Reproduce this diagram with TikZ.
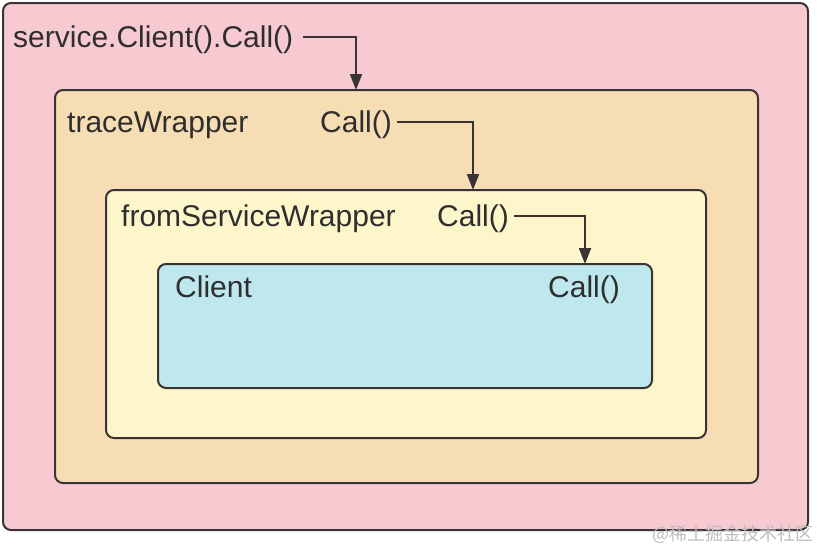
\documentclass[tikz,border=0pt]{standalone}
\usepackage{fontspec}
\setmainfont{Liberation Sans}
\newfontfamily\cjk{Noto Sans CJK SC}
\usetikzlibrary{arrows.meta}
\definecolor{pinkbg}{HTML}{F7CAD1}
\definecolor{orangebg}{HTML}{F7DDB4}
\definecolor{yellowbg}{HTML}{FEF6CB}
\definecolor{cyanbg}{HTML}{BEE8EE}
\definecolor{edge}{HTML}{3A3333}
\definecolor{txt}{HTML}{2E2E2E}
\definecolor{wm}{HTML}{BDBDBD}
\begin{document}
\begin{tikzpicture}[x=1pt,y=-1pt,
  box/.style={draw=edge, line width=2pt, rounded corners=8pt, anchor=north west, inner sep=0pt, outer sep=0pt},
  lbl/.style={anchor=base west, inner sep=0pt, text=txt, font=\fontsize{30}{33}\selectfont, text height=21pt, text depth=0pt},
  arr/.style={draw=edge, line width=2pt, -{Triangle[length=16pt,width=12pt]}}]
\useasboundingbox (0,0) rectangle (826,544);
\fill[white] (0,0) rectangle (826,544);
\node[box, fill=pinkbg, minimum width=805pt, minimum height=527pt] (outer) at (3,3) {};
\node[box, fill=orangebg, minimum width=703pt, minimum height=393pt] (trace) at (55,90) {};
\node[box, fill=yellowbg, minimum width=600pt, minimum height=248pt] (fsw) at (106,190) {};
\node[box, fill=cyanbg, minimum width=494pt, minimum height=124pt] (client) at (158,264) {};

\node[lbl] (t1) at (13,47) {service.Client().Call()};
\node[lbl] (l2) at (67,132) {traceWrapper};
\node[lbl] (t2) at (320,132) {Call()};
\node[lbl] (l3) at (121,226) {fromServiceWrapper};
\node[lbl] (t3) at (437,226) {Call()};
\node[lbl] (l4) at (175,297) {Client};
\node[lbl] (t4) at (548,297) {Call()};

\coordinate (c1) at (356,90);
\coordinate (c2) at (473,190);
\coordinate (c3) at (585,264);
\draw[arr] ([xshift=10pt]t1.east) -| (c1);
\draw[arr] ([xshift=5pt]t2.east) -| (c2);
\draw[arr] ([xshift=5pt]t3.east) -| (c3);

\node[anchor=base west, inner sep=0pt, text=wm, font=\cjk\fontsize{18}{20}\selectfont] (wmk) at (652,540) {@稀土掘金技术社区};
\end{tikzpicture}
\end{document}
